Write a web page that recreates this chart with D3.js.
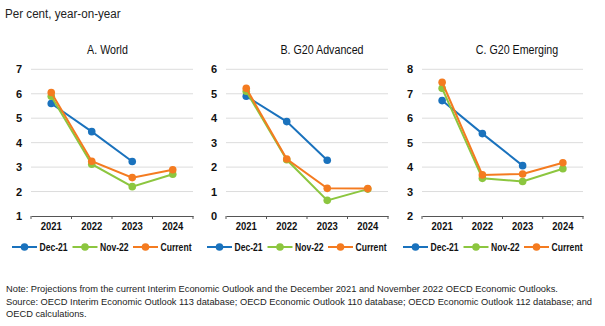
<!DOCTYPE html>
<html><head><meta charset="utf-8">
<script src="https://cdnjs.cloudflare.com/ajax/libs/d3/7.8.5/d3.min.js"></script>
<style>
body{margin:0;background:#fff;}
svg{display:block;font-family:"Liberation Sans",Arial,sans-serif;}
</style></head>
<body><svg id="c" width="605" height="326"></svg>
<script>
const years = ["2021","2022","2023","2024"];
const seriesNames = ["Dec-21","Nov-22","Current"];
const colors = ["#1a72bd","#8cc63f","#f47b20"];
const panelTitles = ["A. World","B. G20 Advanced","C. G20 Emerging"];
const yDomains = [[1,7],[0,6],[2,8]];
// values per panel: [Dec-21, Nov-22, Current], null = no value
const worldDec21 = [5.6, 4.45, 3.23, null];
const worldNov22 = [5.9, 3.12, 2.2, 2.71];
const worldCurrent = [6.05, 3.24, 2.57, 2.89];
const advDec21 = [4.9, 3.86, 2.28, null];
const advNov22 = [5.1, 2.3, 0.64, 1.1];
const advCurrent = [5.22, 2.33, 1.13, 1.12];
const emeDec21 = [6.72, 5.37, 4.06, null];
const emeNov22 = [7.22, 3.54, 3.41, 3.93];
const emeCurrent = [7.47, 3.68, 3.72, 4.18];
const panelData = [
  [worldDec21, worldNov22, worldCurrent],
  [advDec21, advNov22, advCurrent],
  [emeDec21, emeNov22, emeCurrent]
];
const unitLabel = "Per cent, year-on-year";
const noteLines = [
  "Note: Projections from the current Interim Economic Outlook and the December 2021 and November 2022 OECD Economic Outlooks.",
  "Source: OECD Interim Economic Outlook 113 database; OECD Economic Outlook 110 database; OECD Economic Outlook 112 database; and",
  "OECD calculations."
];

function condense(sel, factor){
  sel.each(function(){
    const w = this.getComputedTextLength();
    d3.select(this).attr("textLength", w*factor).attr("lengthAdjust","spacingAndGlyphs");
  });
}

const svg = d3.select("#c");
svg.append("text").attr("x",5).attr("y",18).attr("font-size",12.5).attr("fill","#222")
  .text(unitLabel).call(condense, 0.93);

const panelX = [[31,193],[226,388],[422,583]];
const titleX = [107.5,322,517];
const titleFactor = 0.89;
const yTop = 69.3, yBot = 216;

panelTitles.forEach((t,i)=>{
  const g = svg.append("g");
  const x = d3.scaleBand().domain(years).range(panelX[i]);
  const y = d3.scaleLinear().domain(yDomains[i]).range([yBot,yTop]);
  g.append("text").attr("x",titleX[i]).attr("y",54).attr("text-anchor","middle")
    .attr("font-size",12).attr("fill","#111").text(t).call(condense, titleFactor);
  const ticks = d3.range(yDomains[i][0], yDomains[i][1]+1);
  g.selectAll(".grid").data(ticks.slice(1)).join("line")
    .attr("x1",panelX[i][0]).attr("x2",panelX[i][1])
    .attr("y1",d=>y(d)).attr("y2",d=>y(d))
    .attr("stroke","#dcdcdc").attr("stroke-width",1);
  g.selectAll(".yl").data(ticks).join("text")
    .attr("x",panelX[i][0]-9).attr("y",d=>y(d)+4).attr("text-anchor","end")
    .attr("font-size",11).attr("font-weight","bold").attr("fill","#111").text(d=>d);
  // x axis
  const ax = g.append("g").attr("transform",`translate(0,${yBot})`)
    .call(d3.axisBottom(x).tickSize(0).tickPadding(6));
  ax.select(".domain").attr("stroke","#555");
  ax.selectAll("text").attr("font-size",11).attr("font-weight","bold").attr("fill","#111")
    .attr("font-family","'Liberation Sans',Arial,sans-serif").call(condense, 0.86);
  const bounds = years.map(d=>x(d)).concat([panelX[i][1]]);
  g.selectAll(".tk").data(bounds).join("line")
    .attr("x1",d=>d).attr("x2",d=>d).attr("y1",yBot).attr("y2",yBot+3)
    .attr("stroke","#555");
  const line = d3.line().defined(d=>d.v!==null).x(d=>x(d.k)+x.bandwidth()/2).y(d=>y(d.v));
  panelData[i].forEach((vals,s)=>{
    const pts = vals.map((v,j)=>({k:years[j],v}));
    g.append("path").datum(pts).attr("d",line).attr("fill","none")
      .attr("stroke",colors[s]).attr("stroke-width",2);
    g.selectAll(".p"+s).data(pts.filter(d=>d.v!==null)).join("circle")
      .attr("cx",d=>x(d.k)+x.bandwidth()/2).attr("cy",d=>y(d.v)).attr("r",3.8)
      .attr("fill",colors[s]);
  });
  // legend
  const lx0 = panelX[i][0]-19;
  seriesNames.forEach((n,s)=>{
    const lx = lx0 + s*60.5;
    const lg = g.append("g").attr("transform",`translate(${lx},247)`);
    lg.append("line").attr("x1",0).attr("x2",25).attr("stroke",colors[s]).attr("stroke-width",2);
    lg.append("circle").attr("cx",12.5).attr("r",3.8).attr("fill",colors[s]);
    lg.append("text").attr("x",27.5).attr("y",4).attr("font-size",11).attr("font-weight","bold")
      .attr("fill","#111").text(n).call(condense, 0.78);
  });
});

noteLines.forEach((t,i)=>{
  svg.append("text").attr("x",6).attr("y",292+i*12.7).attr("font-size",9.3)
    .attr("fill","#222").text(t);
});
</script></body></html>
